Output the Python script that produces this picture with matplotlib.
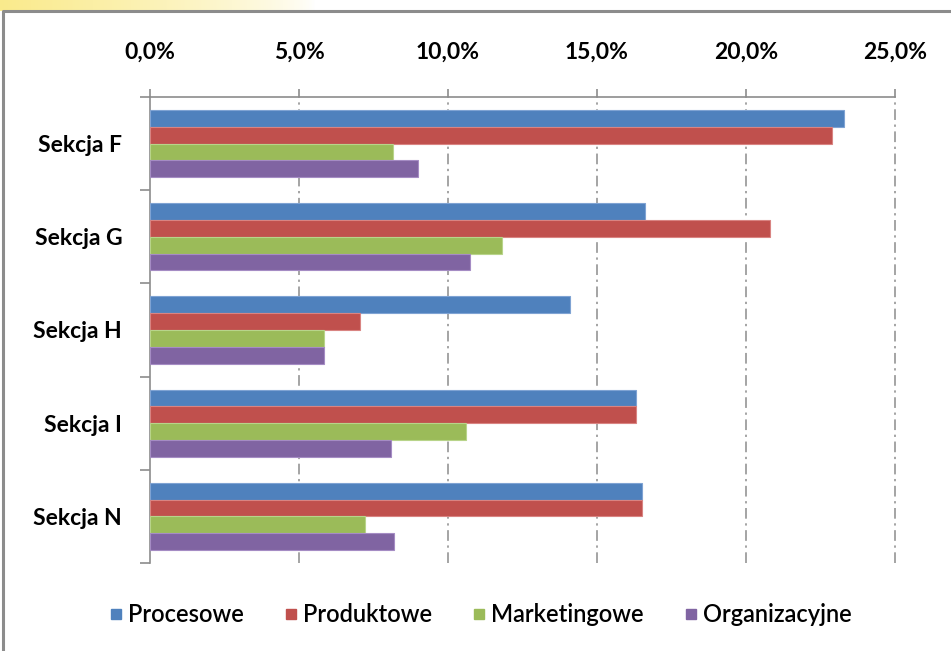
import numpy as np
import matplotlib
matplotlib.use("Agg")
import matplotlib.pyplot as plt
from matplotlib.lines import Line2D
from matplotlib.ticker import FixedLocator, FuncFormatter

# ==========================================================
# DATA
# ==========================================================

sections = ["Sekcja F", "Sekcja G", "Sekcja H", "Sekcja I", "Sekcja N"]

series_names = ["Procesowe", "Produktowe", "Marketingowe", "Organizacyjne"]

procesowe = [23.3, 16.6, 14.1, 16.3, 16.5]
produktowe = [22.9, 20.8, 7.05, 16.3, 16.5]
marketingowe = [8.15, 11.8, 5.85, 10.6, 7.2]
organizacyjne = [9.0, 10.75, 5.85, 8.1, 8.2]

values = [procesowe, produktowe, marketingowe, organizacyjne]

colors = ["#4F81BD", "#C0504D", "#9BBB59", "#8064A2"]
edge_colors = ["#7FA3D3", "#D98482", "#B8D48A", "#A58CC4"]

x_ticks = [0, 5, 10, 15, 20, 25]

# ==========================================================
# FIGURE
# ==========================================================

plt.rcParams["font.family"] = ["Lato", "DejaVu Sans"]

W, H = 951, 651
fig = plt.figure(figsize=(W / 100, H / 100), dpi=100)
fig.patch.set_facecolor("white")

# yellow glow strip above the frame
bg = fig.add_axes([0, 0, 1, 1], zorder=-10)
bg.set_xlim(0, W)
bg.set_ylim(H, 0)
bg.axis("off")
gx = np.linspace(0, 1, 400)
grad = np.clip(1 - gx / 0.33, 0, 1) ** 0.7
rgb = np.ones((1, 400, 3))
rgb[0, :, 0] = 1 - grad * 0.02
rgb[0, :, 1] = 1 - grad * 0.08
rgb[0, :, 2] = 1 - grad * 0.45
bg.imshow(rgb, extent=[0, W, 11, 0], aspect="auto")
bg.plot([2.5, 2.5, W], [H, 11, 11], color="#8C8C8C", lw=2.2, solid_capstyle="butt")

# ==========================================================
# BARS
# ==========================================================

ax = fig.add_axes([150 / W, 1 - 563 / H, (895 - 150) / W, (563 - 97) / H])

y = np.arange(len(sections))
bar_h = 0.18
offsets = [-0.27, -0.09, 0.09, 0.27]

for vals, off, col, ec in zip(values, offsets, colors, edge_colors):
    ax.barh(y + off, vals, height=bar_h, color=col, edgecolor=ec,
            linewidth=0.8, zorder=3)

ax.set_xlim(0, 25)
ax.set_ylim(len(sections) - 0.5, -0.5)

# x axis on top
ax.xaxis.tick_top()
ax.xaxis.set_major_locator(FixedLocator(x_ticks))
ax.xaxis.set_major_formatter(
    FuncFormatter(lambda v, p: f"{v:.1f}%".replace(".", ","))
)
ax.tick_params(axis="x", which="major", direction="out", length=6,
               width=1.2, color="#8C8C8C", pad=19, labelsize=16.5)
for lbl in ax.get_xticklabels():
    lbl.set_fontweight("bold")

# y axis: labels at centers, ticks at boundaries
ax.set_yticks(y)
ax.set_yticklabels(sections, fontsize=16.5, fontweight="bold")
ax.set_yticks(np.arange(-0.5, len(sections)), minor=True)
ax.tick_params(axis="y", which="major", length=0, pad=20)
ax.tick_params(axis="y", which="minor", direction="out", length=7,
               width=1.2, color="#8C8C8C")

for s in ["right", "bottom"]:
    ax.spines[s].set_visible(False)
for s in ["top", "left"]:
    ax.spines[s].set_color("#8C8C8C")
    ax.spines[s].set_linewidth(1.2)

for xv in x_ticks[1:]:
    ax.axvline(xv, color="#8C8C8C", lw=1.1, linestyle=(0, (7, 3, 1.5, 3)),
               zorder=1, clip_on=False)

# ==========================================================
# LEGEND
# ==========================================================

handles = [Line2D([], [], marker="s", linestyle="none", markersize=7.5,
                  markerfacecolor=c, markeredgecolor=c) for c in colors]
leg = fig.legend(handles, series_names, loc="center",
                 bbox_to_anchor=(0.506, 1 - 615 / H),
                 ncol=4, frameon=False, fontsize=17, handlelength=0.45,
                 handletextpad=0.3, columnspacing=1.75)
for t in leg.get_texts():
    t.set_fontweight("semibold")

fig.savefig("out.png", dpi=100)
